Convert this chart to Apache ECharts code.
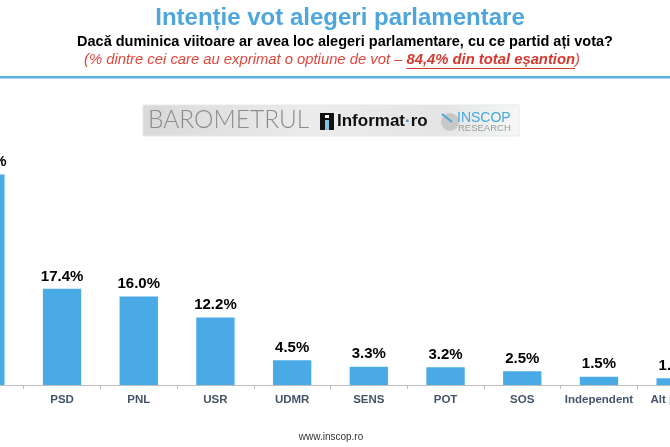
<!DOCTYPE html>
<html>
<head>
<meta charset="utf-8">
<script src="https://cdn.jsdelivr.net/npm/echarts@6/dist/echarts.min.js"></script>
<style>
html,body{margin:0;padding:0;background:#fff;}
#c{width:670px;height:447px;}
</style>
</head>
<body>
<div id="c"></div>
<script>
var categories = ['AUR', 'PSD', 'PNL', 'USR', 'UDMR', 'SENS', 'POT', 'SOS', 'Independent', 'Alt partid'];
var values = [38.1, 17.4, 16.0, 12.2, 4.5, 3.3, 3.2, 2.5, 1.5, 1.2];
var titleText = 'Intenție vot alegeri parlamentare';
var subtitleText = 'Dacă duminica viitoare ar avea loc alegeri parlamentare, cu ce partid ați vota?';
var noteStart = '(% dintre cei care au exprimat o optiune de vot – ';
var noteBold = '84,4% din total eșantion';
var noteEnd = ')';
var footerText = 'www.inscop.ro';

var chart = echarts.init(document.getElementById('c'), null, {renderer: 'canvas'});
var FF = '"Liberation Sans", Arial, sans-serif';

var NS = 14.8;
var ctx = document.createElement('canvas').getContext('2d');
ctx.font = 'italic ' + NS + 'px ' + FF;
var w1 = ctx.measureText(noteStart).width;
ctx.font = 'italic bold ' + NS + 'px ' + FF;
var w2 = ctx.measureText(noteBold).width;
ctx.font = 'italic ' + NS + 'px ' + FF;
var w3 = ctx.measureText(noteEnd).width;
var noteTotal = w1 + w2 + w3;
var noteX = 332 - noteTotal / 2;

chart.setOption({
  animation: false,
  grid: {left: -53, width: 767, top: 164, height: 221, containLabel: false, outerBoundsMode: 'none'},
  xAxis: {
    type: 'category',
    data: categories,
    axisLine: {show: true, lineStyle: {color: '#bfbfbf', width: 1}},
    axisTick: {show: true, length: 4, lineStyle: {color: '#bfbfbf'}},
    axisLabel: {color: '#44546a', fontWeight: 'bold', fontSize: 11.5, fontFamily: FF, margin: 9, interval: 0}
  },
  yAxis: {
    type: 'value', min: 0, max: 40, show: false, splitLine: {show: false}
  },
  series: [{
    type: 'bar',
    data: values,
    barWidth: '50%',
    itemStyle: {color: '#4aaae6'},
    label: {
      show: true, position: 'top', distance: 5,
      color: '#000', fontWeight: 'bold', fontSize: 15, fontFamily: FF,
      formatter: function (p) { return p.value.toFixed(1) + '%'; }
    }
  }],
  graphic: [
    {type: 'text', x: 340, y: 6, style: {text: titleText, fill: '#4fa6dc', font: 'bold 24px ' + FF, align: 'center'}},
    {type: 'text', x: 345, y: 34, style: {text: subtitleText, fill: '#000', font: 'bold 14.5px ' + FF, align: 'center'}},
    {type: 'text', x: noteX, y: 52, style: {
      text: '{a|' + noteStart + '}{b|' + noteBold + '}{a|' + noteEnd + '}',
      rich: {
        a: {fill: '#e0473c', font: 'italic ' + NS + 'px ' + FF},
        b: {fill: '#d63a2f', font: 'italic bold ' + NS + 'px ' + FF}
      }
    }},
    {type: 'line', shape: {x1: noteX + w1, y1: 68.5, x2: noteX + w1 + w2, y2: 68.5}, style: {stroke: '#d63a2f', lineWidth: 1.2}},
    {type: 'rect', shape: {x: 0, y: 76, width: 670, height: 2.5}, style: {fill: '#5aaee3'}},
    {type: 'rect', shape: {x: 143, y: 105, width: 376, height: 31}, style: {
      fill: new echarts.graphic.LinearGradient(0, 0, 1, 0, [
        {offset: 0, color: '#d9d9d9'}, {offset: 0.45, color: '#ececec'}, {offset: 0.8, color: '#e4e4e4'}, {offset: 1, color: '#f6f8f8'}
      ]), stroke: '#e6eaea', lineWidth: 1}},
    {type: 'text', x: 148, y: 108, style: {text: 'BAROMETRUL', fill: '#8c8c8c', font: '300 24.5px Lato, Roboto, sans-serif'}},
    {type: 'rect', shape: {x: 320, y: 113, width: 14, height: 17}, style: {fill: '#111'}},
    {type: 'rect', shape: {x: 325, y: 115, width: 4, height: 3}, style: {fill: '#fff'}},
    {type: 'rect', shape: {x: 325, y: 120, width: 4, height: 10}, style: {fill: '#7ec3df'}},
    {type: 'text', x: 337, y: 113, style: {text: '{a|Informat}{d|·}{a|ro}', rich: {
      a: {fill: '#111', font: 'bold 17px ' + FF},
      d: {fill: '#5a8fb0', font: 'bold 17px ' + FF}
    }}},
    {type: 'circle', shape: {cx: 450, cy: 122, r: 9}, style: {fill: '#c8c8c8'}},
    {type: 'line', shape: {x1: 442, y1: 114, x2: 452, y2: 122}, style: {stroke: '#4aa8d8', lineWidth: 2}},
    {type: 'text', x: 457, y: 111, style: {text: 'INSCOP', fill: '#4aa8d8', font: '14px ' + FF}},
    {type: 'text', x: 458, y: 123, style: {text: 'RESEARCH', fill: '#9a9a9a', font: '9.5px ' + FF}},
    {type: 'text', x: 331, y: 432, style: {text: footerText, fill: '#333', font: '10px ' + FF, align: 'center'}}
  ]
});
</script>
</body>
</html>
